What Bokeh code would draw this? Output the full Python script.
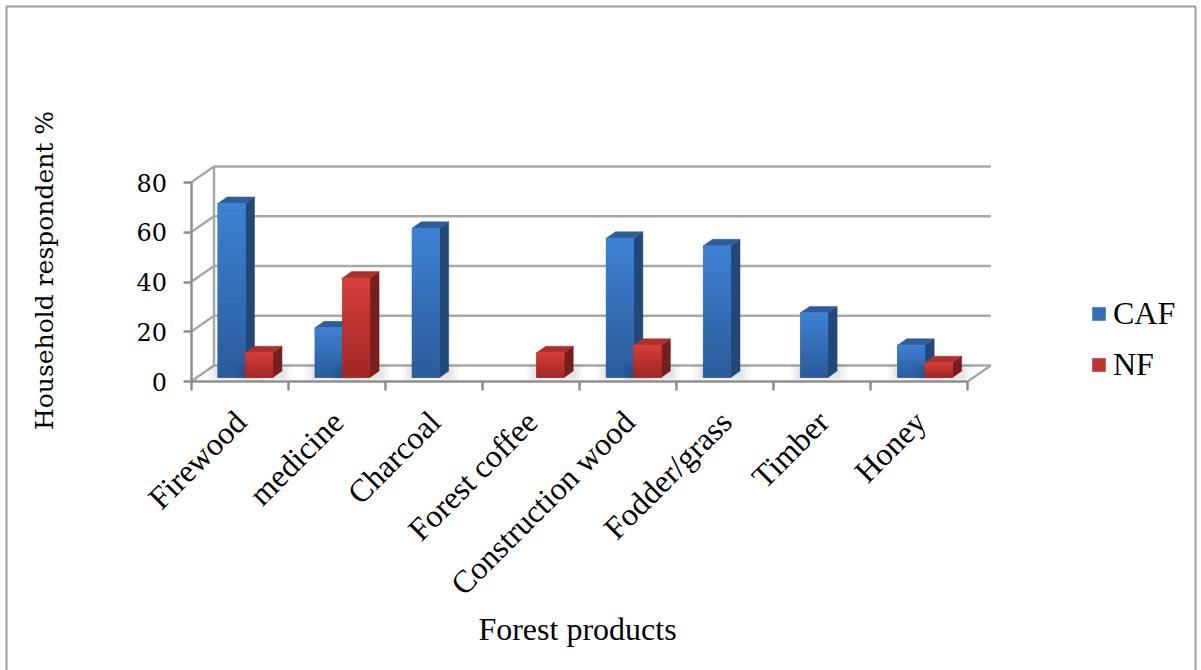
import math
from bokeh.plotting import figure
from bokeh.models import (Range1d, LinearAxis, FixedTicker, CustomJSTickFormatter,
                          ColumnDataSource, Legend, LegendItem, Label)
from bokeh.core.properties import value
from bokeh.embed import file_html
from bokeh.resources import INLINE

# ---- data -------------------------------------------------------------
products = ["Firewood", "medicine", "Charcoal", "Forest coffee",
            "Construction wood", "Fodder/grass", "Timber", "Honey"]
caf = [70, 20, 60, 0, 56, 53, 26, 13]
nf = [10, 40, 0, 10, 13, 0, 0, 6]
series_names = ["CAF", "NF"]
y_ticks = [0, 20, 40, 60, 80]

# ---- layout: pixel anchors of the front-left floor corner and scales ----
W, H = 1201, 670
ORIGIN_X, ORIGIN_Y = 190.5, 381.0
CAT_PX = 97.1            # pixels per category slot
UNIT_PX = 199 / 80       # pixels per percentage point


def ux(px):
    return (px - ORIGIN_X) / CAT_PX


def uy(py):
    return (ORIGIN_Y - py) / UNIT_PX


# oblique depth of the floor, in data units
DX = 23 / CAT_PX
DY = 16 / UNIT_PX
BAR_W = 0.283            # width of one column
FRONT = 0.25             # depth fraction where the column front sits
DEPTH = 0.40             # column depth as a fraction of floor depth
NCAT = len(products)

GRID = "#A8A8A8"
AXIS = "#8E8E8E"
WIDE_FONT = "DejaVu Serif"
TEXT_FONT = "Liberation Serif"

styles = {
    "CAF": dict(top="#3E82D4", bottom="#2B5B9A", side="#22487A", lid="#2E5E99", mid="#3470B8"),
    "NF": dict(top="#D83F3A", bottom="#A02826", side="#781F1D", lid="#A9322E", mid="#BE3431"),
}

p = figure(width=W, height=H,
           x_range=Range1d(ux(0), ux(W)), y_range=Range1d(uy(H), uy(0)),
           x_axis_type=None, y_axis_type=None,
           toolbar_location=None, output_backend="svg",
           min_border=0, outline_line_color=None,
           background_fill_color="white", border_fill_color="white")

# chart-area border (open at the bottom edge of the page)
p.quad(left=ux(6), right=ux(1195), top=uy(6), bottom=uy(H + 30),
       fill_color=None, line_color="#9C9C9C", line_width=2)

# ---- walls and floor --------------------------------------------------
top_val = y_ticks[-1]
p.multi_line(xs=[[DX, NCAT + DX] for _ in y_ticks],
             ys=[[g + DY, g + DY] for g in y_ticks],
             line_color=GRID, line_width=2.5)
p.multi_line(xs=[[0, DX] for _ in y_ticks],
             ys=[[g, g + DY] for g in y_ticks],
             line_color=GRID, line_width=2.5)
p.line(x=[DX, DX], y=[DY, top_val + DY], line_color=GRID, line_width=2.5)
p.line(x=[NCAT, NCAT + DX], y=[0, DY], line_color=GRID, line_width=2.5)

yaxis = LinearAxis(fixed_location=0, bounds=(0, top_val),
                   ticker=FixedTicker(ticks=y_ticks, minor_ticks=[]),
                   axis_line_color=AXIS, axis_line_width=2.5,
                   major_tick_line_color=AXIS, major_tick_line_width=2.5,
                   major_tick_out=8, major_tick_in=0,
                   minor_tick_line_color=None,
                   major_label_text_font=WIDE_FONT, major_label_text_font_size="24px",
                   major_label_text_color="black", major_label_standoff=16)
p.add_layout(yaxis, "left")

xaxis = LinearAxis(fixed_location=0, bounds=(0, NCAT),
                   ticker=FixedTicker(ticks=list(range(NCAT + 1)), minor_ticks=[]),
                   formatter=CustomJSTickFormatter(code="return ''"),
                   axis_line_color=AXIS, axis_line_width=2.5,
                   major_tick_line_color=AXIS, major_tick_line_width=2.5,
                   major_tick_out=9, major_tick_in=0,
                   minor_tick_line_color=None)
p.add_layout(xaxis, "below")


# ---- columns ----------------------------------------------------------
def mix(c1, c2, t):
    a = [int(c1[i:i + 2], 16) for i in (1, 3, 5)]
    b = [int(c2[i:i + 2], 16) for i in (1, 3, 5)]
    return "#%02x%02x%02x" % tuple(round(a[k] + (b[k] - a[k]) * t) for k in range(3))


legend_items = []
NSTRIP = 24
for s_idx, (name, vals) in enumerate(zip(series_names, [caf, nf])):
    st = styles[name]
    offset = -BAR_W if s_idx == 0 else 0.0
    front = dict(left=[], right=[], bottom=[], top=[])
    strips = dict(left=[], right=[], bottom=[], top=[], color=[])
    side_xs, side_ys, lid_xs, lid_ys = [], [], [], []
    sh_xs, sh_ys = [], []
    ddx, ddy = DEPTH * DX, DEPTH * DY
    for i, v in enumerate(vals):
        if v <= 0:
            continue
        x0 = i + 0.5 + offset + FRONT * DX
        x1 = x0 + BAR_W
        b = FRONT * DY
        t = v + b
        front["left"].append(x0); front["right"].append(x1)
        front["bottom"].append(b); front["top"].append(t)
        for k in range(NSTRIP):
            strips["left"].append(x0); strips["right"].append(x1)
            strips["bottom"].append(b + (t - b) * k / NSTRIP)
            strips["top"].append(b + (t - b) * (k + 1) / NSTRIP)
            strips["color"].append(mix(st["bottom"], st["top"], (k + 0.5) / NSTRIP))
        side_xs.append([x1, x1 + ddx, x1 + ddx, x1])
        side_ys.append([b, b + ddy, t + ddy, t])
        lid_xs.append([x0, x1, x1 + ddx, x0 + ddx])
        lid_ys.append([t, t, t + ddy, t + ddy])
        # soft floor shadow around the column base
        for e in (0.10, 0.06, 0.03):
            ey = e * 30
            sh_xs.append([x0 - e, x1 + ddx + e, x1 + ddx + e, x0 - e])
            sh_ys.append([b - ey * 0.4, b - ey * 0.4, b + ddy + ey, b + ddy + ey])
    p.patches(xs=sh_xs, ys=sh_ys, fill_color="black", fill_alpha=0.035, line_color=None)
    p.patches(xs=side_xs, ys=side_ys, fill_color=st["side"], line_color=st["side"], line_width=0.5)
    p.patches(xs=lid_xs, ys=lid_ys, fill_color=st["lid"], line_color=st["lid"], line_width=0.5)
    r_front = p.quad(source=ColumnDataSource(front), left="left", right="right",
                     bottom="bottom", top="top", fill_color=st["mid"], line_color=None)
    p.quad(source=ColumnDataSource(strips), left="left", right="right",
           bottom="bottom", top="top", fill_color="color", line_color="color", line_width=0.6)
    legend_items.append(LegendItem(label=name, renderers=[r_front]))

# ---- category labels --------------------------------------------------
p.text(x=[i + 0.5 + 1 / CAT_PX for i in range(NCAT)], y=[uy(416)] * NCAT, text=products,
       angle=math.pi / 4, text_align="right", text_baseline="middle",
       text_font=value(TEXT_FONT), text_font_size="32px", text_color="black")

p.add_layout(Label(x=ux(44), y=uy(270), text="Household respondent %", angle=math.pi / 2,
                   text_align="center", text_baseline="middle",
                   text_font=WIDE_FONT, text_font_size="25px", text_color="black"))
p.add_layout(Label(x=ux(577), y=uy(628), text="Forest products",
                   text_align="center", text_baseline="middle",
                   text_font=TEXT_FONT, text_font_size="32px", text_color="black"))

legend = Legend(items=legend_items, location=(1090, H - 383),
                glyph_width=17, glyph_height=17, label_height=37, spacing=14,
                label_standoff=6, padding=0, margin=0,
                label_text_font=TEXT_FONT, label_text_font_size="32px",
                label_text_color="black",
                border_line_color=None, background_fill_alpha=0)
p.add_layout(legend)

open("out.html", "w").write(file_html(p, INLINE))
